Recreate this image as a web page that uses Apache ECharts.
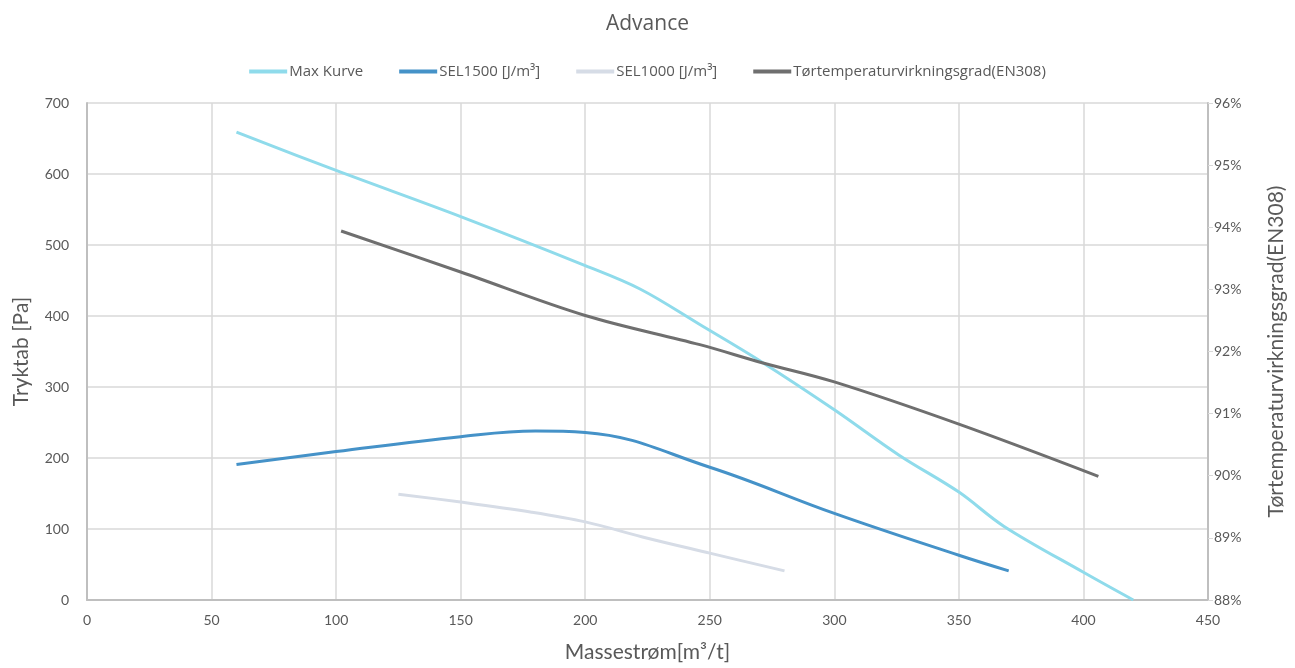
<!DOCTYPE html>
<html>
<head>
<meta charset="utf-8">
<script src="https://cdn.jsdelivr.net/npm/echarts@6/dist/echarts.min.js"></script>
<style>
html,body{margin:0;padding:0;background:#fff;}
#c{width:1295px;height:668px;}
</style>
</head>
<body>
<div id="c"></div>
<script>
const maxKurveX = [60, 100, 150, 200, 222, 246, 271, 300, 326, 350, 368, 400, 420];
const maxKurveY = [659, 605, 540, 471, 438, 388, 335, 268, 204, 152, 104, 39, 0];

const sel1500X = [60, 100, 150, 180, 200, 250, 300, 350, 370];
const sel1500Y = [191, 209, 230, 238, 236, 187, 122, 63, 41];

const sel1000X = [125, 150, 178, 200, 225, 250, 280];
const sel1000Y = [149, 138, 124, 110, 87, 66, 41];

const torX = [102, 150, 200, 246, 271, 300, 350, 406];
const torY = [0.9394, 0.9328, 0.9258, 0.9211, 0.9182, 0.9151, 0.9083, 0.8999];

const xTicks = [0, 50, 100, 150, 200, 250, 300, 350, 400, 450];
const leftTicks = [0, 100, 200, 300, 400, 500, 600, 700];
const rightTicks = [0.88, 0.89, 0.90, 0.91, 0.92, 0.93, 0.94, 0.95, 0.96];

const seriesNames = ['Max Kurve', 'SEL1500 [J/m³]', 'SEL1000 [J/m³]', 'Tørtemperaturvirkningsgrad(EN308)'];
const seriesColors = ['#8fdbeb', '#4592c8', '#d6dce6', '#6f6f6f'];

function pairs(xs, ys){ return xs.map((x,i)=>[x, ys[i]]); }

const FONT = 'Lato, "Open Sans", sans-serif';
const FONT2 = '"Open Sans", Lato, sans-serif';
const TXT = '#595959';

const chart = echarts.init(document.getElementById('c'));
chart.setOption({
  animation: false,
  textStyle: {fontFamily: FONT},
  title: {
    text: 'Advance', left: 'center', top: 9,
    textStyle: {fontFamily: FONT2, fontSize: 21, fontWeight: 'normal', color: TXT}
  },
  legend: {
    top: 59, left: 'center',
    icon: 'rect', itemWidth: 38, itemHeight: 4, itemGap: 36,
    textStyle: {fontFamily: FONT2, fontSize: 15, color: TXT, padding: [0, 0, 0, -3]},
    data: seriesNames
  },
  grid: {left: 87, right: 87, top: 103, bottom: 63, containLabel: false},
  xAxis: {
    type: 'value', min: xTicks[0], max: xTicks[xTicks.length-1], interval: 50,
    name: 'Massestrøm[m³/t]', nameLocation: 'middle', nameGap: 42,
    nameTextStyle: {fontFamily: FONT, fontSize: 21, color: TXT},
    axisLine: {show: true, lineStyle: {color: '#bfbfbf', width: 2}},
    axisTick: {show: false},
    axisLabel: {fontFamily: FONT, fontSize: 14, color: TXT, margin: 13},
    splitLine: {show: true, lineStyle: {color: '#d9d9d9', width: 1.5}}
  },
  yAxis: [{
    type: 'value', min: leftTicks[0], max: leftTicks[leftTicks.length-1], interval: 100,
    name: 'Tryktab [Pa]', nameLocation: 'middle', nameGap: 55, nameRotate: 90,
    nameTextStyle: {fontFamily: FONT, fontSize: 21, color: TXT},
    axisLine: {show: true, lineStyle: {color: '#bfbfbf', width: 2}},
    axisTick: {show: false},
    axisLabel: {fontFamily: FONT, fontSize: 14, color: TXT, margin: 18},
    splitLine: {show: true, lineStyle: {color: '#d9d9d9', width: 1.5}}
  }, {
    type: 'value', position: 'right', min: rightTicks[0], max: rightTicks[rightTicks.length-1], interval: 0.01,
    name: 'Tørtemperaturvirkningsgrad(EN308)', nameLocation: 'middle', nameGap: 58, nameRotate: 90,
    nameTextStyle: {fontFamily: FONT, fontSize: 21, color: TXT},
    axisLine: {show: true, lineStyle: {color: '#bfbfbf', width: 2}},
    axisTick: {show: true, length: 5, lineStyle: {color: '#d9d9d9'}},
    axisLabel: {fontFamily: FONT, fontSize: 14, color: TXT, margin: 6,
      formatter: v => Math.round(v*100) + '%'},
    splitLine: {show: false}
  }],
  series: [
    {name: seriesNames[0], type: 'line', smooth: 0.35, showSymbol: false, yAxisIndex: 0,
     data: pairs(maxKurveX, maxKurveY), lineStyle: {width: 3, color: seriesColors[0]}, itemStyle: {color: seriesColors[0]}},
    {name: seriesNames[1], type: 'line', smooth: 0.4, showSymbol: false, yAxisIndex: 0,
     data: pairs(sel1500X, sel1500Y), lineStyle: {width: 3, color: seriesColors[1]}, itemStyle: {color: seriesColors[1]}},
    {name: seriesNames[2], type: 'line', smooth: 0.35, showSymbol: false, yAxisIndex: 0,
     data: pairs(sel1000X, sel1000Y), lineStyle: {width: 3, color: seriesColors[2]}, itemStyle: {color: seriesColors[2]}},
    {name: seriesNames[3], type: 'line', smooth: 0.35, showSymbol: false, yAxisIndex: 1,
     data: pairs(torX, torY), lineStyle: {width: 3, color: seriesColors[3]}, itemStyle: {color: seriesColors[3]}}
  ]
});
</script>
</body>
</html>
